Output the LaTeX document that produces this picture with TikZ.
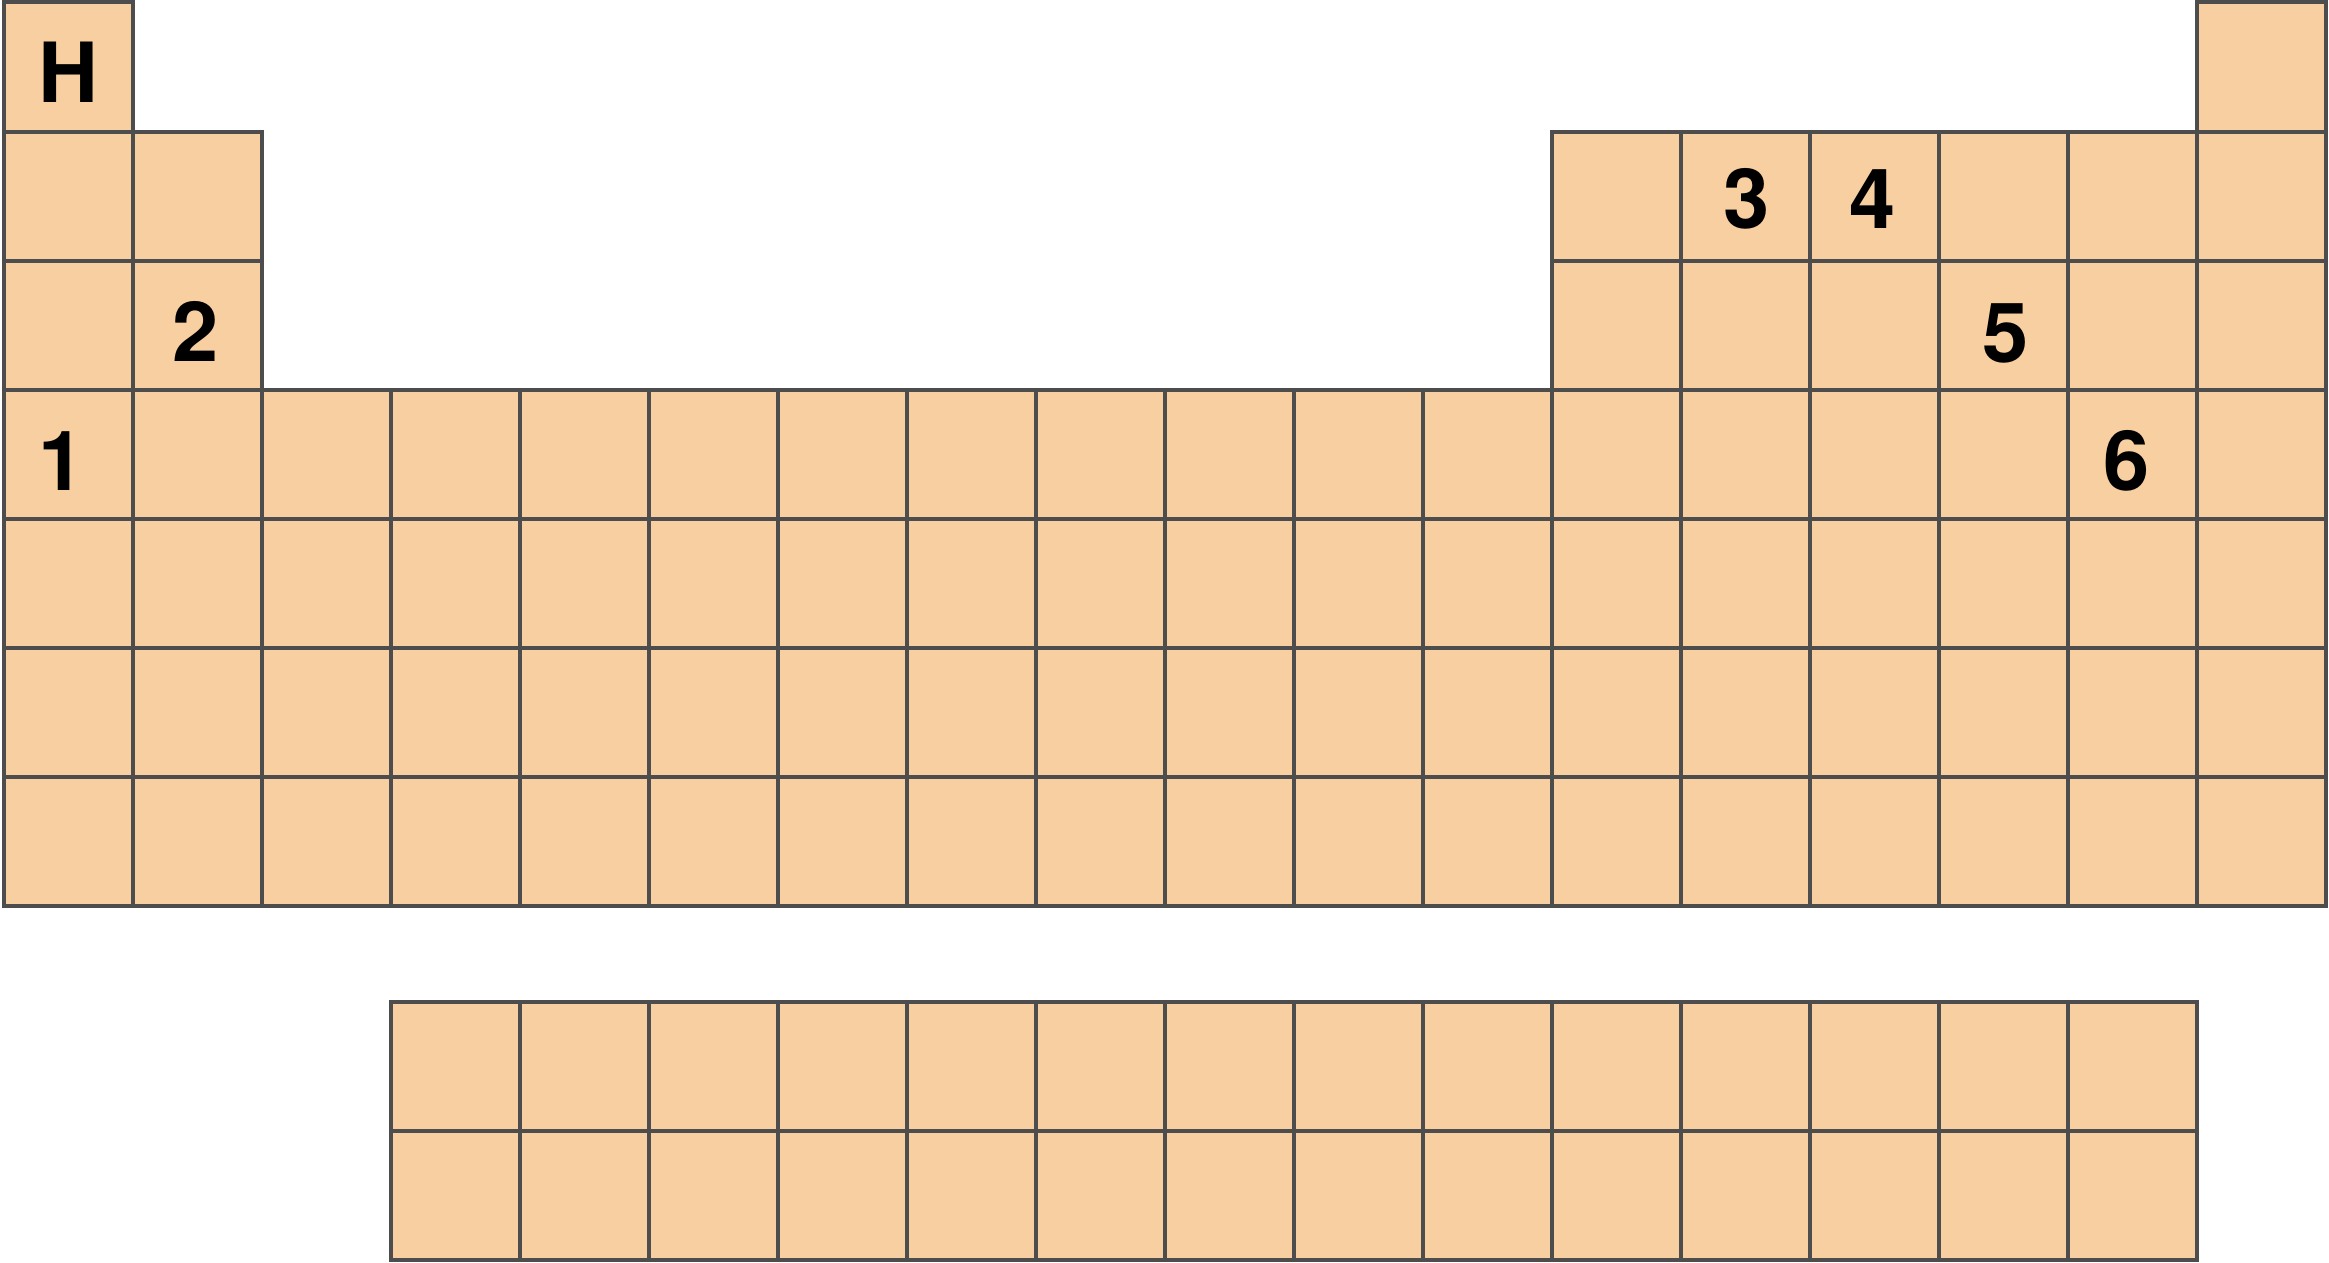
\documentclass[tikz,border=0pt]{standalone}
\usepackage{fontspec}
\setmainfont{TeX Gyre Heros}
\definecolor{cellfill}{HTML}{F8CFA0}
\definecolor{cellline}{HTML}{4D4D4D}
\begin{document}
\begin{tikzpicture}[x=1pt,y=-1pt,
  cell/.style={draw=cellline, fill=cellfill, line width=4pt, minimum width=129pt, minimum height=129pt, inner sep=0pt, outer sep=0pt},
  lbl/.style={font={\fontsize{83}{90}\selectfont\bfseries}, anchor=base, inner sep=0pt, text=black}]
\useasboundingbox (0,0) rectangle (2329,1263);
% main table
\foreach \c in {0,17} \node[cell] (r0c\c) at ({68.8+129*\c},67) {};
\foreach \r in {1,2} \foreach \c in {0,1,12,13,14,15,16,17}
  \node[cell] (r\r c\c) at ({68.8+129*\c},{67+129*\r}) {};
\foreach \r in {3,...,6} \foreach \c in {0,...,17}
  \node[cell] (r\r c\c) at ({68.8+129*\c},{67+129*\r}) {};
% lower block
\foreach \r in {0,1} \foreach \c in {3,...,16}
  \node[cell] (l\r c\c) at ({68.8+129*\c},{1066.75+129*\r}) {};
% labels
\node[lbl] (nH) at (68,102) {H};
\node[lbl] (n2) at (195.3,361.5) {2};
\node[lbl] (n1) at (62,490) {1};
\node[lbl] (n3) at (1747,228) {3};
\node[lbl] (n4) at (1873,228) {4};
\node[lbl] (n5) at (2006,362) {5};
\node[lbl] (n6) at (2127,490) {6};
\end{tikzpicture}
\end{document}
